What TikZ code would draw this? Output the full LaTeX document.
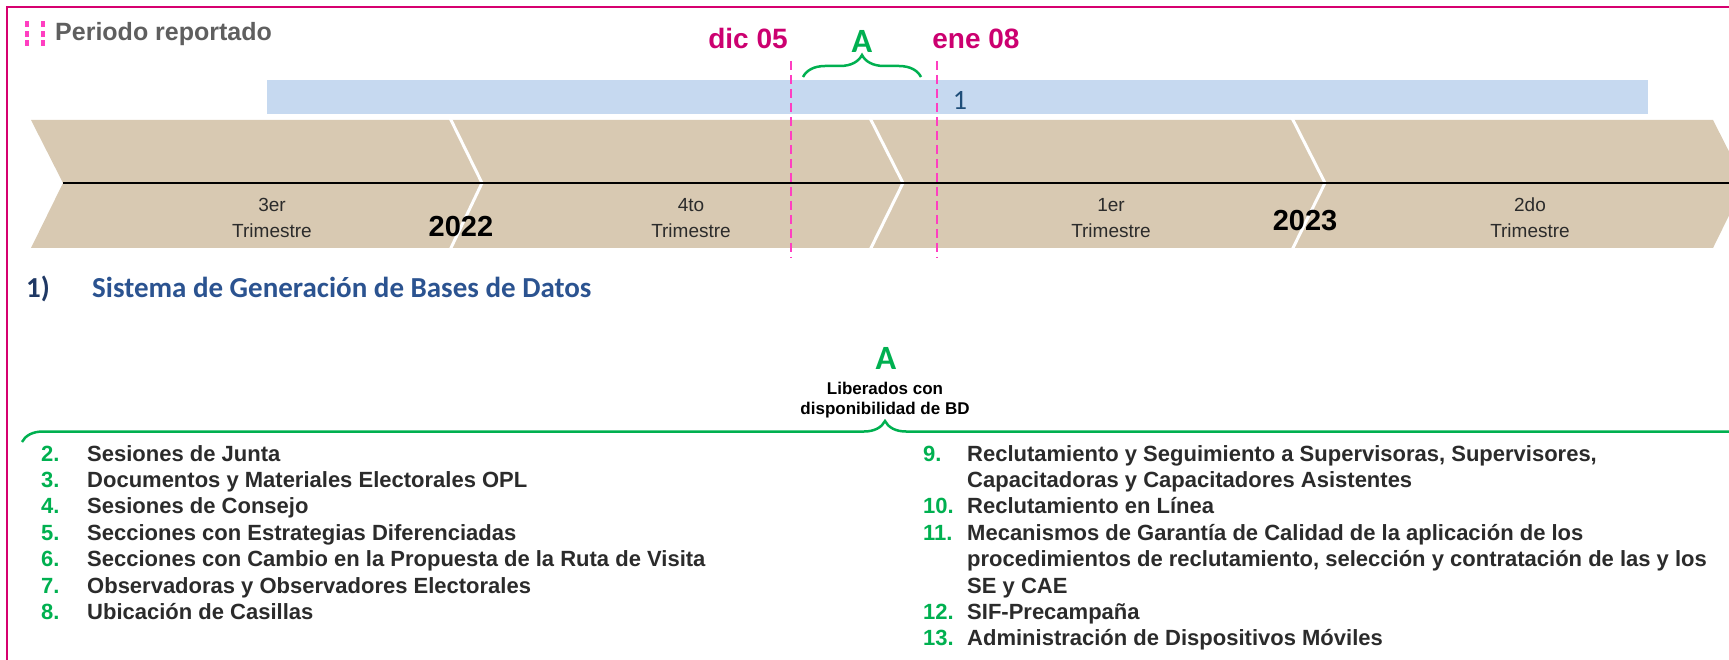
\documentclass[tikz,border=0pt]{standalone}
\usepackage{fontspec}
\setmainfont{Liberation Sans}
\newfontfamily\calfont{Carlito}
\usetikzlibrary{decorations.pathreplacing}
\definecolor{framec}{HTML}{D6006F}
\definecolor{dashpink}{HTML}{FF3EC1}
\definecolor{magtext}{HTML}{CC0070}
\definecolor{tanc}{HTML}{D8C9B2}
\definecolor{barblue}{HTML}{C6D9F0}
\definecolor{grn}{HTML}{00B050}
\definecolor{navy}{HTML}{1F3864}
\definecolor{titleblue}{HTML}{2B5390}
\definecolor{txt}{HTML}{2B2B2B}
\definecolor{graytxt}{HTML}{5F5F5F}
\definecolor{numblue}{HTML}{1F4E79}
\tikzset{
  lbl/.style={inner sep=0pt},
  trim/.style={lbl, align=center, text=txt, font=\fontsize{19}{26}\selectfont},
  yearl/.style={lbl, text=black, font=\fontsize{29}{29}\selectfont\bfseries},
  datel/.style={lbl, text=magtext, font=\fontsize{28}{28}\selectfont\bfseries},
  bigA/.style={lbl, text=grn, font=\fontsize{34}{34}\selectfont\calfont\bfseries},
  numl/.style={lbl, anchor=base west, text=grn, font=\fontsize{22}{22}\selectfont\bfseries},
  iteml/.style={lbl, anchor=base west, text=txt, font=\fontsize{22}{22}\selectfont\bfseries},
  sep/.style={white, line width=3pt},
  vdash/.style={dashpink, line width=2.8pt, dash pattern=on 9pt off 5pt},
  gbrace/.style={grn, line width=2.5pt, decorate, decoration={brace, amplitude=#1}},
}
\begin{document}
\begin{tikzpicture}[x=1pt,y=-1pt]
\useasboundingbox (0,0) rectangle (1729,660);
\clip (0,0) rectangle (1729,660);
% frame
\draw[framec, line width=2pt] (7,662) -- (7,7) -- (1731,7);
% legend dots
\foreach \x in {27,43} \foreach \y in {24,34,43} \fill[dashpink] (\x-2,\y-3) rectangle (\x+2,\y+3);
\node[lbl, anchor=base west, text=graytxt, font=\fontsize{25}{25}\selectfont\bfseries] (leg) at (55,41) {Periodo reportado};
% blue bar
\fill[barblue] (267,80) rectangle (1648,114);
\node[lbl, text=numblue, font=\fontsize{28}{28}\selectfont\calfont] (one) at (960,100) {1};
% band
\fill[tanc] (31,120) -- (1713,120) -- (1745,183) -- (1713,248) -- (31,248) -- (63,183) -- cycle;
\draw[sep] (450,118) -- (482,183) -- (450,250);
\draw[sep] (870,118) -- (903,183) -- (870,250);
\draw[sep] (1292,118) -- (1325,183) -- (1292,250);
\draw[black, line width=1.8pt] (63,183) -- (1731,183);
\node[trim] (q3) at (272,218) {3er\\Trimestre};
\node[trim] (q4) at (691,218) {4to\\Trimestre};
\node[trim] (q1) at (1111,218) {1er\\Trimestre};
\node[trim] (q2) at (1530,218) {2do\\Trimestre};
\node[yearl] (y22) at (461,227) {2022};
\node[yearl] (y23) at (1305,221) {2023};
% dates
\node[datel] (dic) at (748,38) {dic 05};
\node[datel] (ene) at (976,39) {ene 08};
\node[bigA] (atop) at (862,41) {A};
\draw[vdash] (791,61) -- (791,258);
\draw[vdash] (937,61) -- (937,258);
\coordinate (sb1) at (803,77);
\coordinate (sb2) at (921,77);
\draw[gbrace=22pt] (sb1) -- (sb2);
% section title
\node[lbl, anchor=base west, text=navy, font=\fontsize{29}{29}\selectfont\calfont\bfseries] (secnum) at (26,298) {1)};
\node[lbl, anchor=base west, text=titleblue, font=\fontsize{29}{29}\selectfont\calfont\bfseries] (sectitle) at (92,298) {Sistema de Generación de Bases de Datos};
% big brace
\node[bigA] (abot) at (886,358) {A};
\node[lbl, align=center, text=black, font=\fontsize{17}{20}\selectfont\bfseries] (lib) at (885,400) {Liberados con\\disponibilidad de BD};
\coordinate (bb1) at (22,442);
\coordinate (bb2) at (1748,442);
\draw[gbrace=21pt] (bb1) -- (bb2);
% left list
\node[numl] (n2) at (41,461) {2.};
\node[iteml] (t2) at (87,461) {Sesiones de Junta};
\node[numl] (n3) at (41,487.4) {3.};
\node[iteml] (t3) at (87,487.4) {Documentos y Materiales Electorales OPL};
\node[numl] (n4) at (41,513.8) {4.};
\node[iteml] (t4) at (87,513.8) {Sesiones de Consejo};
\node[numl] (n5) at (41,540.2) {5.};
\node[iteml] (t5) at (87,540.2) {Secciones con Estrategias Diferenciadas};
\node[numl] (n6) at (41,566.6) {6.};
\node[iteml] (t6) at (87,566.6) {Secciones con Cambio en la Propuesta de la Ruta de Visita};
\node[numl] (n7) at (41,593) {7.};
\node[iteml] (t7) at (87,593) {Observadoras y Observadores Electorales};
\node[numl] (n8) at (41,619.4) {8.};
\node[iteml] (t8) at (87,619.4) {Ubicación de Casillas};
% right list
\node[numl] (n9) at (923,461) {9.};
\node[iteml] (t9a) at (967,461) {Reclutamiento y Seguimiento a Supervisoras, Supervisores,};
\node[iteml] (t9b) at (967,487.4) {Capacitadoras y Capacitadores Asistentes};
\node[numl] (n10) at (923,513.8) {10.};
\node[iteml] (t10) at (967,513.8) {Reclutamiento en Línea};
\node[numl] (n11) at (923,540.2) {11.};
\node[iteml] (t11a) at (967,540.2) {Mecanismos de Garantía de Calidad de la aplicación de los};
\node[iteml] (t11b) at (967,566.6) {procedimientos de reclutamiento, selección y contratación de las y los};
\node[iteml] (t11c) at (967,593) {SE y CAE};
\node[numl] (n12) at (923,619.4) {12.};
\node[iteml] (t12) at (967,619.4) {SIF-Precampaña};
\node[numl] (n13) at (923,645.8) {13.};
\node[iteml] (t13) at (967,645.8) {Administración de Dispositivos Móviles};
\end{tikzpicture}
\end{document}
